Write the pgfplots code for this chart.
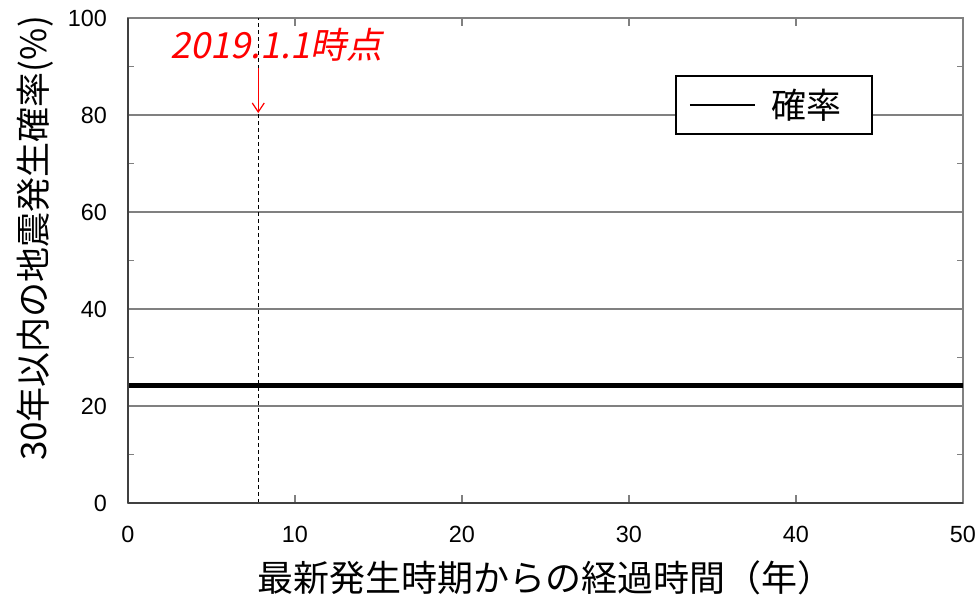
\documentclass[border=0pt]{standalone}
\usepackage{pgfplots}
\pgfplotsset{compat=1.18}
\usetikzlibrary{arrows.meta}
\usepackage{fontspec}
\setmainfont{Liberation Sans}
\newfontfamily\jp{Noto Sans CJK JP}
\newfontfamily\jpit[FakeSlant=0.2]{Noto Sans CJK JP}
\begin{document}
\begin{tikzpicture}
\begin{axis}[
  name=ax,
  scale only axis,
  width=417.5pt, height=242.5pt,
  xmin=0, xmax=50, ymin=0, ymax=100,
  xtick={0,10,20,30,40,50},
  ytick={0,20,40,60,80,100},
  minor ytick={10,30,50,70,90},
  tick align=inside,
  major tick length=4pt,
  minor tick length=3pt,
  tick style={gray, line width=0.6pt},
  ymajorgrids=true,
  grid style={gray, line width=0.6pt},
  axis line style={gray, line width=0.6pt},
  /pgf/number format/assume math mode=true,
  ticklabel style={font=\fontsize{11.7}{13}\selectfont},
  xticklabel style={yshift=-8pt},
  yticklabel style={xshift=-7pt},
  legend style={at={(0.655,0.8825)}, anchor=north west, draw=black,
    line width=0.9pt, inner xsep=6.5pt, inner ysep=4.5pt,
    font=\jp\fontsize{17.5}{20}\selectfont},
  legend cell align=left,
  clip=false,
]
\addplot[black, line width=2.4pt, forget plot] coordinates {(0,24.2) (50,24.2)};
\addplot[black, line width=0.7pt, dash pattern=on 2pt off 1.5pt, forget plot] coordinates {(7.8,0) (7.8,100)};
\addlegendimage{black, legend image code/.code={\draw[line width=1pt] (0pt,0pt) -- (32.5pt,0pt);}}
\addlegendentry{\hspace*{6pt}確率\hspace*{6.5pt}}
\draw[red, line width=0.6pt, -{Straight Barb[length=4.5pt,width=6pt]}] (axis cs:7.8,89.7) -- (axis cs:7.8,80.4);
\node[red, font=\jpit\fontsize{18}{20}\selectfont] at (axis cs:8.9,94.4) {2019.1.1時点};
\end{axis}
\draw[black!75, line width=0.75pt] (ax.south west) -- (ax.north west);
\draw[black!75, line width=0.75pt] (ax.south west) -- (ax.south east);
\node[rotate=90, font=\jp\fontsize{17.5}{20}\selectfont] at ([xshift=-46.5pt,yshift=11pt]ax.west) {30年以内の地震発生確率(\%)};
\node[font=\jp\fontsize{18}{20}\selectfont] at ([yshift=-37.5pt]ax.south) {最新発生時期からの経過時間（年）};
\pgfresetboundingbox
\path[use as bounding box] ([shift={(-64pt,-47.5pt)}]ax.south west) rectangle ([shift={(8.5pt,9pt)}]ax.north east);
\end{tikzpicture}
\end{document}
